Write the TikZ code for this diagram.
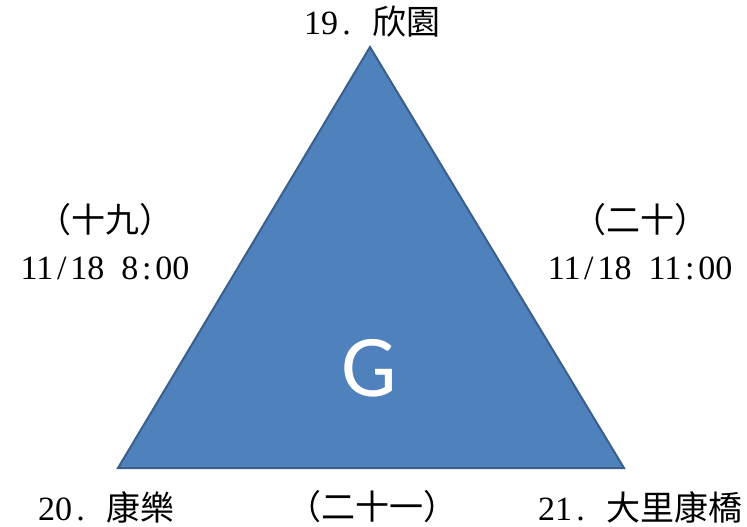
\documentclass[tikz,border=0pt]{standalone}
\usepackage{fontspec}
\setmainfont{Liberation Serif}
\newfontfamily\cjk{Noto Sans CJK TC}
\newfontfamily\gfont{Carlito}
\usepackage{tikz}
\definecolor{triblue}{HTML}{4F81BD}
\definecolor{triedge}{HTML}{3A5F8B}
\newcommand{\hsp}{\hspace{0.5em}}
\newcommand{\hc}[1]{\makebox[0.5em]{#1}}
\newcommand{\lblnode}{\node[font=\fontsize{34}{47}\selectfont,align=center,inner sep=0pt]}
\begin{document}
\begin{tikzpicture}[x=1pt,y=-1pt]
      \useasboundingbox (0,0) rectangle (747,527);
      \coordinate (top) at (370,47); % top corner
      \coordinate (left) at (118,468);
      \coordinate (right) at (624,468);
      %%%% the triangle
      \draw[triedge,line width=2pt,fill=triblue,line join=miter] (top) -- (left) -- (right) -- cycle;
      \node[text=white,anchor=base,inner sep=0pt,font=\gfont\fontsize{88}{88}\selectfont] (g) at (369,396) {G};
      %%%% station names
      \lblnode (s19) at (372,22) {19\hc{.}\hsp{\cjk 欣園}};
      \lblnode (s20) at (106,507) {20\hc{.}\hsp{\cjk 康樂}};
      \lblnode (s21) at (640,507) {21\hc{.}\hsp{\cjk 大里康橋}};
      %%%% sides
      \lblnode (e19) at (105,242) {{\cjk （十九）}\\11\hc{/}18\hsp 8\hc{:}00};
      \lblnode (e20) at (640,242) {{\cjk （二十）}\\11\hc{/}18\hsp 11\hc{:}00};
      \lblnode (e21) at (372,507) {{\cjk （二十一）}};
\end{tikzpicture}
\end{document}
